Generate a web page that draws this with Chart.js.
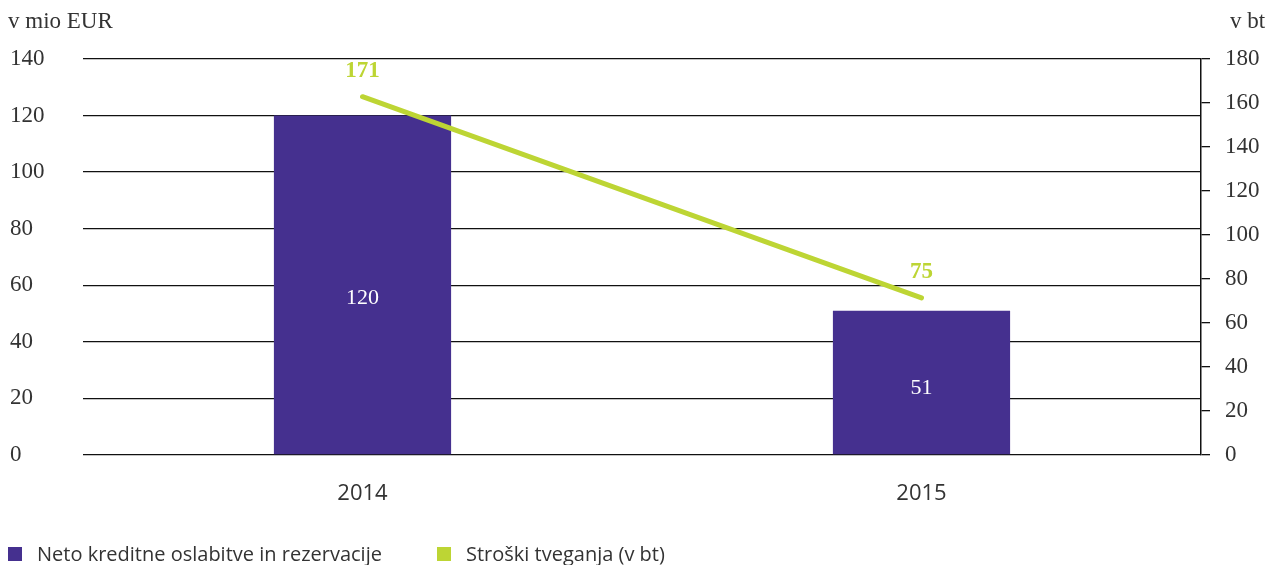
<!DOCTYPE html>
<html>
<head>
<meta charset="utf-8">
<script src="https://cdn.jsdelivr.net/npm/chart.js@4.4.0/dist/chart.umd.min.js"></script>
<style>
  html, body { margin: 0; padding: 0; background: #fff; }
  #wrap { position: relative; width: 1267px; height: 565px; overflow: hidden; }
  canvas { position: absolute; left: 0; top: 0; }
  .unit { position: absolute; font-family: "Liberation Serif", serif; font-size: 23px; color: #333; }
  #legend { position: absolute; left: 8px; top: 540px; display: flex; font-family: "Open Sans", sans-serif; font-size: 20px; color: #333; }
  .item { display: flex; align-items: center; }
  .box { width: 14px; height: 14px; margin-right: 15px; }
</style>
</head>
<body>
<div id="wrap">
  <canvas id="chart" width="1267" height="565"></canvas>
  <div class="unit" style="left:8px; top:8px;">v mio EUR</div>
  <div class="unit" style="left:1230px; top:8px;">v bt</div>
  <div id="legend"></div>
</div>
<script>
const years = ['2014', '2015'];
const provisions = [120, 51];     // Neto kreditne oslabitve in rezervacije (v mio EUR)
const riskCost = [171, 75];       // Stroški tveganja (v bt)
const seriesNames = ['Neto kreditne oslabitve in rezervacije', 'Stroški tveganja (v bt)'];

const purple = '#45308f';
const green = '#bdd534';

// oznake vrednosti na stolpcih in črti
const valueLabels = {
  id: 'valueLabels',
  afterDatasetsDraw(chart) {
    const ctx = chart.ctx;
    ctx.save();
    ctx.textAlign = 'center';
    ctx.textBaseline = 'middle';
    chart.getDatasetMeta(1).data.forEach((bar, i) => {
      ctx.fillStyle = '#fff';
      ctx.font = '22px "Liberation Serif", serif';
      ctx.fillText(provisions[i], bar.x, bar.base - (bar.base - bar.y) * 0.46);
    });
    chart.getDatasetMeta(0).data.forEach((pt, i) => {
      ctx.fillStyle = green;
      ctx.font = 'bold 23px "Liberation Serif", serif';
      ctx.fillText(riskCost[i], pt.x, pt.y - 26);
    });
    ctx.restore();
  }
};

new Chart(document.getElementById('chart').getContext('2d'), {
  data: {
    labels: years,
    datasets: [
      {
        type: 'line',
        label: seriesNames[1],
        data: riskCost,
        yAxisID: 'yLine',
        borderColor: green,
        borderWidth: 5,
        borderCapStyle: 'round',
        pointRadius: 0,
        order: 0
      },
      {
        type: 'bar',
        label: seriesNames[0],
        data: provisions,
        yAxisID: 'y',
        backgroundColor: purple,
        barPercentage: 0.317,
        categoryPercentage: 1,
        order: 1
      }
    ]
  },
  options: {
    responsive: false,
    animation: false,
    layout: { padding: { left: 10, right: 0, top: 59, bottom: 0 } },
    plugins: { legend: { display: false }, tooltip: { enabled: false } },
    scales: {
      x: {
        grid: { display: false },
        border: { display: false },
        ticks: { color: '#333', font: { family: '"Open Sans", sans-serif', size: 22 }, padding: 18 },
        afterFit(s) { s.height = 110; }
      },
      y: {
        position: 'left',
        min: 0, max: 140,
        ticks: { stepSize: 20, crossAlign: 'far', color: '#333', font: { family: '"Liberation Serif", serif', size: 23 } },
        grid: { color: '#111', lineWidth: 1.3, drawTicks: false },
        border: { display: false },
        afterFit(s) { s.width = 73; }
      },
      yRight: {
        position: 'right',
        min: 0, max: 180,
        ticks: { stepSize: 20, padding: 15, color: '#333', font: { family: '"Liberation Serif", serif', size: 23 } },
        grid: { drawOnChartArea: false, drawTicks: true, tickLength: 9, color: '#111', lineWidth: 1.3 },
        border: { display: true, color: '#111', width: 1.5 },
        afterFit(s) { s.width = 66; }
      },
      // črta je v izvirniku narisana na nekoliko širši lestvici kot prikazana desna os
      yLine: {
        display: false,
        min: 0, max: 189
      }
    }
  },
  plugins: [valueLabels]
});

const legend = document.getElementById('legend');
[[seriesNames[0], purple, 429], [seriesNames[1], green, 0]].forEach(([name, color, w]) => {
  const item = document.createElement('div');
  item.className = 'item';
  if (w) item.style.width = w + 'px';
  item.innerHTML = `<span class="box" style="background:${color}"></span><span>${name}</span>`;
  legend.appendChild(item);
});
</script>
</body>
</html>
